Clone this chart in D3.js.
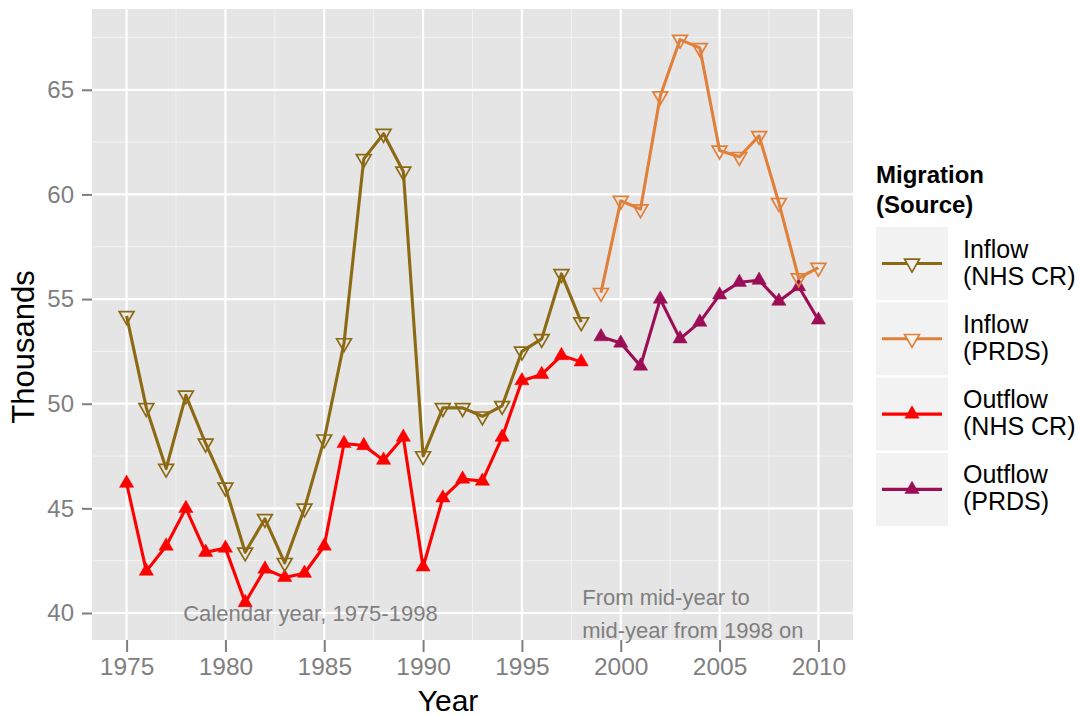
<!DOCTYPE html>
<html>
<head>
<meta charset="utf-8">
<script src="https://cdn.jsdelivr.net/npm/d3@7"></script>
<style>
  html, body { margin: 0; padding: 0; background: #ffffff; }
  svg { display: block; font-family: "Liberation Sans", Arial, Helvetica, sans-serif; }
</style>
</head>
<body>
<svg id="chart" width="1079" height="716"></svg>
<script>
// ---- Data ----
const yearsNHS = [1975,1976,1977,1978,1979,1980,1981,1982,1983,1984,1985,1986,1987,1988,1989,1990,1991,1992,1993,1994,1995,1996,1997,1998];
const inflowNHS = [54.2,49.8,46.9,50.4,48.1,46.0,42.9,44.5,42.4,45.0,48.3,52.9,61.7,62.9,61.1,47.5,49.8,49.8,49.4,49.9,52.5,53.1,56.2,53.9];
const outflowNHS = [46.2,42.0,43.2,45.0,42.9,43.1,40.5,42.1,41.7,41.9,43.2,48.1,48.0,47.3,48.4,42.2,45.5,46.4,46.3,48.4,51.1,51.4,52.3,52.0];
const yearsPRDS = [1999,2000,2001,2002,2003,2004,2005,2006,2007,2008,2009,2010];
const inflowPRDS = [55.3,59.7,59.3,64.7,67.4,67.0,62.1,61.8,62.8,59.6,56.0,56.5];
const outflowPRDS = [53.2,52.9,51.8,55.0,53.1,53.9,55.2,55.8,55.9,54.9,55.6,54.0];

const xTicks = [1975,1980,1985,1990,1995,2000,2005,2010];
const yTicks = [40,45,50,55,60,65];
const xMinor = [1977.5,1982.5,1987.5,1992.5,1997.5,2002.5,2007.5];
const yMinor = [42.5,47.5,52.5,57.5,62.5,67.5];

const seriesNames = ["Inflow\n(NHS CR)", "Inflow\n(PRDS)", "Outflow\n(NHS CR)", "Outflow\n(PRDS)"];
const seriesColors = ["#8C6A14", "#E0803A", "#FF0000", "#9B0E56"];
const seriesKinds = ["in", "in", "out", "out"];

const legendTitle = ["Migration", "(Source)"];
const note1 = {x: 1984.3, y: 40, lines: ["Calendar year, 1975-1998"]};
const note2 = {x: 1998.05, y: 40, lines: ["From mid-year to", "mid-year from 1998 on"]};

// ---- Layout ----
const svg = d3.select("#chart");
const P = {left: 92, right: 853, top: 9, bottom: 640};
const x = d3.scaleLinear().domain([1973.25, 2011.75]).range([P.left, P.right]);
const y = d3.scaleLinear().domain([38.71, 68.86]).range([P.bottom, P.top]);

// Panel
svg.append("rect").attr("x", P.left).attr("y", P.top)
  .attr("width", P.right - P.left).attr("height", P.bottom - P.top).attr("fill", "#E5E5E5");

const grid = svg.append("g");
grid.selectAll(".vmin").data(xMinor).join("line")
  .attr("x1", d => x(d)).attr("x2", d => x(d)).attr("y1", P.top).attr("y2", P.bottom)
  .attr("stroke", "#F2F2F2").attr("stroke-width", 1);
grid.selectAll(".hmin").data(yMinor).join("line")
  .attr("y1", d => y(d)).attr("y2", d => y(d)).attr("x1", P.left).attr("x2", P.right)
  .attr("stroke", "#F2F2F2").attr("stroke-width", 1);
grid.selectAll(".vmaj").data(xTicks).join("line")
  .attr("x1", d => x(d)).attr("x2", d => x(d)).attr("y1", P.top).attr("y2", P.bottom)
  .attr("stroke", "#FFFFFF").attr("stroke-width", 2.2);
grid.selectAll(".hmaj").data(yTicks).join("line")
  .attr("y1", d => y(d)).attr("y2", d => y(d)).attr("x1", P.left).attr("x2", P.right)
  .attr("stroke", "#FFFFFF").attr("stroke-width", 2.2);

// Axes
const xAxis = d3.axisBottom(x).tickValues(xTicks).tickFormat(d3.format("d")).tickSize(12).tickPadding(6);
const gx = svg.append("g").attr("transform", `translate(0,${P.bottom})`).call(xAxis);
gx.select(".domain").remove();
gx.selectAll(".tick line").attr("stroke", "#7F7F7F").attr("stroke-width", 2);
gx.selectAll(".tick text").attr("fill", "#7F7F7F").attr("font-size", 24.5)
  .attr("font-family", "Liberation Sans, Arial, sans-serif");

const yAxis = d3.axisLeft(y).tickValues(yTicks).tickSize(10).tickPadding(8);
const gy = svg.append("g").attr("transform", `translate(${P.left},0)`).call(yAxis);
gy.select(".domain").remove();
gy.selectAll(".tick line").attr("stroke", "#7F7F7F").attr("stroke-width", 2);
gy.selectAll(".tick text").attr("fill", "#7F7F7F").attr("font-size", 24)
  .attr("font-family", "Liberation Sans, Arial, sans-serif");

// Axis titles
svg.append("text").attr("x", 448).attr("y", 711).attr("text-anchor", "middle")
  .attr("font-size", 30).attr("fill", "#000").text("Year");
svg.append("text").attr("transform", "translate(34,347) rotate(-90)").attr("text-anchor", "middle")
  .attr("font-size", 31).attr("fill", "#000").text("Thousands");

// Annotations
function note(n) {
  const t = svg.append("text").attr("fill", "#7F7F7F").attr("font-size", 22);
  if (n.lines.length === 1) {
    t.attr("x", x(n.x)).attr("y", y(n.y)).attr("dy", "0.35em").attr("text-anchor", "middle").text(n.lines[0]);
  } else {
    n.lines.forEach((l, i) => {
      t.append("tspan").attr("x", x(n.x)).attr("y", y(n.y) + (i === 0 ? -8 : 25)).text(l);
    });
  }
}
note(note1);
note(note2);

// Series
const series = [
  {years: yearsNHS, vals: inflowNHS, i: 0},
  {years: yearsPRDS, vals: inflowPRDS, i: 1},
  {years: yearsNHS, vals: outflowNHS, i: 2},
  {years: yearsPRDS, vals: outflowPRDS, i: 3}
];
const line = d3.line().x(d => x(d[0])).y(d => y(d[1]));
const triSym = d3.symbol().type(d3.symbolTriangle);
const inSize = 95, outSize = 88;

const order = [2, 3, 0, 1];
order.forEach(k => {
  const s = series[k];
  const pts = s.years.map((yr, j) => [yr, s.vals[j]]);
  const color = seriesColors[s.i];
  const kind = seriesKinds[s.i];
  const g = svg.append("g");
  g.append("path").datum(pts).attr("d", line).attr("fill", "none")
    .attr("stroke", color).attr("stroke-width", 3.1).attr("stroke-linejoin", "round");
  g.selectAll("path.m").data(pts).join("path").attr("class", "m")
    .attr("transform", d => `translate(${x(d[0])},${y(d[1])})` + (kind === "in" ? " rotate(180)" : ""))
    .attr("d", triSym.size(kind === "in" ? inSize : outSize)())
    .attr("fill", kind === "in" ? "none" : color)
    .attr("stroke", color)
    .attr("stroke-width", kind === "in" ? 1.7 : 0.5);
});

// Legend
const L = {x: 876, titleY: 183};
svg.append("text").attr("x", L.x).attr("y", L.titleY).attr("font-size", 24).attr("font-weight", "bold")
  .attr("fill", "#000").text(legendTitle[0]);
svg.append("text").attr("x", L.x).attr("y", L.titleY + 30).attr("font-size", 24).attr("font-weight", "bold")
  .attr("fill", "#000").text(legendTitle[1]);

const keyTop = 227, keyH = 73, keyPitch = 75.3, keyW = 72;
seriesNames.forEach((name, i) => {
  const top = keyTop + i * keyPitch;
  const cy = top + keyH / 2;
  const g = svg.append("g");
  g.append("rect").attr("x", L.x).attr("y", top).attr("width", keyW).attr("height", keyH).attr("fill", "#F2F2F2");
  g.append("line").attr("x1", L.x + 6).attr("x2", L.x + keyW - 6).attr("y1", cy).attr("y2", cy)
    .attr("stroke", seriesColors[i]).attr("stroke-width", 3.1);
  const kind = seriesKinds[i];
  g.append("path").attr("transform", `translate(${L.x + keyW / 2},${cy})` + (kind === "in" ? " rotate(180)" : ""))
    .attr("d", triSym.size(kind === "in" ? inSize : outSize)())
    .attr("fill", kind === "in" ? "#F2F2F2" : seriesColors[i])
    .attr("stroke", seriesColors[i]).attr("stroke-width", kind === "in" ? 1.7 : 0.5);
  const lines = name.split("\n");
  const t = g.append("text").attr("font-size", 25).attr("fill", "#000");
  lines.forEach((l, j) => {
    t.append("tspan").attr("x", L.x + 87).attr("y", cy - 6 + j * 27).text(l);
  });
});
</script>
</body>
</html>
